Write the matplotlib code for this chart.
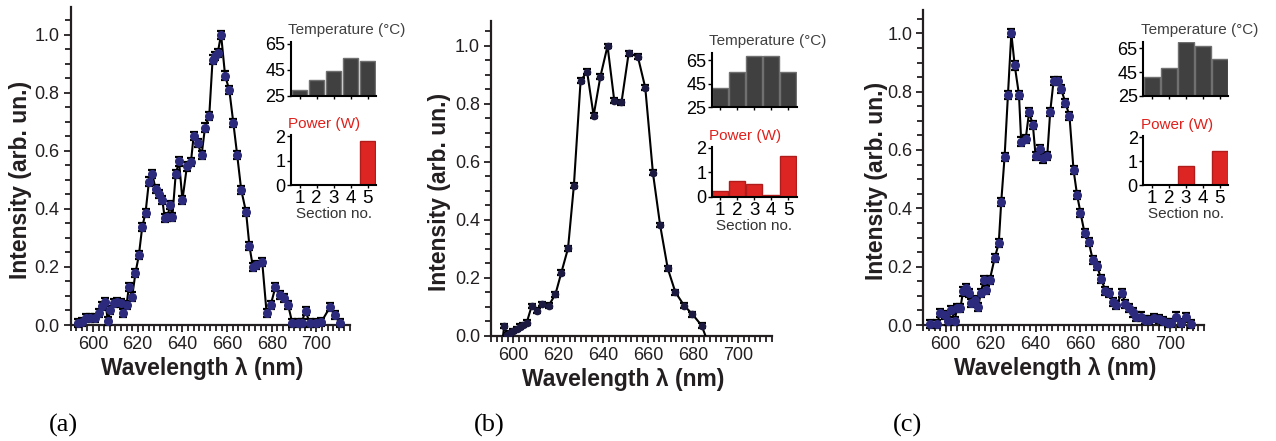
import numpy as np
import matplotlib
matplotlib.use('Agg')
import matplotlib.pyplot as plt
from matplotlib.ticker import MultipleLocator

plt.rcParams['font.family'] = ['Liberation Sans', 'DejaVu Sans']

# ---- spectra ----
wl_a = [593.1, 595.1, 597.0, 598.8, 601.0, 602.5, 604.0, 605.5, 606.6, 607.8,
        609.3, 610.8, 612.3, 613.5, 615.0, 616.0, 617.5, 619.0, 620.5, 622.0,
        623.5, 625.0, 626.5, 628.0, 629.5, 631.0, 632.1, 633.3, 634.5, 635.5,
        637.0, 638.5, 640.0, 642.0, 643.8, 645.0, 646.8, 648.6, 650.1, 652.0,
        653.5, 654.6, 655.8, 657.3, 659.1, 661.0, 662.8, 664.5, 666.3, 668.5,
        670.0, 671.5, 673.0, 675.7, 677.7, 679.5, 681.6, 683.5, 685.5, 687.3,
        689.2, 691.8, 693.3, 695.1, 697.0, 700.0, 702.2, 706.0, 708.2, 710.5]
int_a = [0.006, 0.011, 0.023, 0.023, 0.023, 0.040, 0.066, 0.080, 0.015, 0.052,
         0.075, 0.080, 0.075, 0.040, 0.069, 0.130, 0.098, 0.180, 0.240, 0.337,
         0.387, 0.494, 0.520, 0.468, 0.450, 0.430, 0.368, 0.373, 0.414, 0.373,
         0.520, 0.563, 0.430, 0.546, 0.560, 0.650, 0.626, 0.586, 0.680, 0.720,
         0.914, 0.925, 0.937, 1.000, 0.859, 0.808, 0.695, 0.586, 0.466, 0.388,
         0.272, 0.201, 0.207, 0.218, 0.040, 0.069, 0.130, 0.103, 0.092, 0.069,
         0.006, 0.006, 0.008, 0.049, 0.006, 0.008, 0.011, 0.061, 0.034, 0.006]
err_a = 0.014

wl_b = [595.0, 595.9, 597.1, 598.5, 600.0, 601.5, 602.9, 604.4, 605.9, 608.1,
        610.3, 612.8, 615.7, 618.7, 621.3, 624.3, 626.9, 629.9, 632.8, 635.7,
        638.7, 641.9, 644.9, 648.1, 651.3, 655.4, 658.7, 662.1, 665.3, 668.7,
        672.1, 676.0, 679.7, 683.8, 686.5]
int_b = [-0.02, 0.034, 0.003, 0.009, 0.017, 0.024, 0.032, 0.038, 0.046, 0.103,
         0.087, 0.110, 0.105, 0.144, 0.218, 0.302, 0.518, 0.880, 0.911, 0.760,
         0.894, 1.000, 0.811, 0.805, 0.975, 0.963, 0.856, 0.563, 0.383, 0.233,
         0.151, 0.105, 0.075, 0.036, -0.02]
err_b = 0.008

wl_c = [592.9, 595.9, 597.6, 599.6, 601.0, 602.5, 604.0, 605.0, 606.5, 607.7,
        609.2, 610.4, 611.4, 612.9, 614.4, 615.6, 616.9, 618.1, 619.6, 621.8,
        623.6, 624.7, 626.2, 627.7, 629.2, 630.7, 632.6, 633.6, 635.6, 637.1,
        638.8, 640.0, 641.8, 643.3, 645.2, 646.5, 648.0, 649.9, 651.4, 653.3,
        655.1, 656.9, 658.5, 660.0, 661.8, 663.7, 665.5, 667.4, 669.2, 671.1,
        672.6, 674.4, 675.9, 678.5, 680.0, 681.5, 683.3, 684.7, 687.0, 688.9,
        690.7, 692.9, 694.8, 696.6, 698.8, 700.3, 702.5, 704.7, 707.0, 709.2]
int_c = [0.003, 0.003, 0.040, 0.034, 0.015, 0.052, 0.015, 0.057, 0.057, 0.115,
         0.126, 0.109, 0.075, 0.086, 0.061, 0.109, 0.155, 0.121, 0.155, 0.230,
         0.280, 0.422, 0.577, 0.790, 1.000, 0.890, 0.790, 0.629, 0.638, 0.730,
         0.686, 0.580, 0.603, 0.571, 0.580, 0.730, 0.836, 0.836, 0.808, 0.762,
         0.716, 0.532, 0.445, 0.385, 0.316, 0.284, 0.222, 0.203, 0.157, 0.118,
         0.111, 0.080, 0.069, 0.109, 0.072, 0.057, 0.043, 0.029, 0.029, 0.017,
         0.017, 0.023, 0.020, 0.015, 0.008, 0.008, 0.029, 0.008, 0.026, 0.003]
err_c = 0.014

# ---- section insets ----
sections = [1, 2, 3, 4, 5]
temp_a = [29.4, 36.9, 44.4, 53.9, 51.6]
temp_b = [41.6, 55.1, 68.4, 68.4, 55.1]
temp_c = [41.0, 48.7, 69.9, 67.2, 56.3]
power_a = [0.0, 0.0, 0.0, 0.0, 1.81]
power_b = [0.24, 0.65, 0.52, 0.07, 1.67]
power_c = [0.0, 0.0, 0.81, 0.0, 1.42]

W, H = 1276, 441
TXT = '#231f20'
NAVY = '#2b2a7c'
GREY = '#404040'
RED = '#dd2623'


def rect(x0, y0, x1, y1):
    return [x0 / W, 1 - y1 / H, (x1 - x0) / W, (y1 - y0) / H]


def main_panel(fig, r, wl, inten, err, ylim_top, clip, ylab_x, ms, mcol):
    ax = fig.add_axes(r)
    ax.errorbar(wl, inten, yerr=err, fmt='-o', color='black', lw=1.5,
                ms=ms, mfc=mcol, mec=mcol, ecolor='black', elinewidth=1,
                capsize=3.2, capthick=1.6, clip_on=clip, zorder=3)
    ax.set_xlim(590, 715)
    ax.set_ylim(0, ylim_top)
    ax.xaxis.set_minor_locator(MultipleLocator(2.5))
    ax.yaxis.set_minor_locator(MultipleLocator(0.05))
    ax.set_xticks([600, 620, 640, 660, 680, 700])
    ax.set_yticks([0.0, 0.2, 0.4, 0.6, 0.8, 1.0])
    ax.yaxis.set_major_formatter(matplotlib.ticker.FormatStrFormatter('%.1f'))
    for s in ['top', 'right']:
        ax.spines[s].set_visible(False)
    for s in ['left', 'bottom']:
        ax.spines[s].set_linewidth(1.6)
        ax.spines[s].set_color(TXT)
    ax.tick_params(which='both', direction='out', width=1.3, color=TXT,
                   labelsize=13, labelcolor=TXT, pad=3)
    ax.tick_params(which='major', length=5)
    ax.tick_params(which='minor', length=4)
    ax.set_xlabel('Wavelength λ (nm)', fontsize=16.5, fontweight='bold', color=TXT)
    ax.set_ylabel('Intensity (arb. un.)', fontsize=16.5, fontweight='bold', color=TXT)
    ax.xaxis.set_label_coords(0.47, -0.137)
    ax.xaxis.label.set_va('center')
    ax.yaxis.set_label_coords(ylab_x, 0.457)
    ax.yaxis.label.set_va('center')
    return ax


def inset(fig, r, vals, color, edge, ylim, yticks, title, tcolor, bottom_labels):
    ax = fig.add_axes(r)
    ax.bar(sections, [v - ylim[0] for v in vals], bottom=ylim[0], width=0.92,
           color=color, edgecolor=edge, linewidth=1)
    ax.set_xlim(0.5, 5.5)
    ax.set_ylim(*ylim)
    ax.set_yticks(yticks)
    ax.set_xticks(sections)
    for s in ['top', 'right']:
        ax.spines[s].set_visible(False)
    for s in ['left', 'bottom']:
        ax.spines[s].set_linewidth(1.5)
        ax.spines[s].set_color('black')
    ax.tick_params(axis='y', length=3, width=1, pad=1, labelsize=13, labelcolor='black')
    ax.tick_params(axis='x', length=2.5, width=1, pad=1, labelsize=13.5, labelcolor='black')
    if bottom_labels:
        ax.set_xlabel('Section no.', fontsize=11, color='#333333', labelpad=0)
    else:
        ax.set_xticklabels([])
    ax.text(-0.03, 1.08, title, transform=ax.transAxes, ha='left', va='bottom',
            fontsize=11, color=tcolor)
    return ax


fig = plt.figure(figsize=(W / 100, H / 100), dpi=100)

main_panel(fig, rect(70.7, 7, 350, 325), wl_a, int_a, err_a, 1.095, False, -0.18, 5.5, NAVY)
main_panel(fig, rect(491, 20.7, 771.7, 336), wl_b, int_b, err_b, 1.087, True, -0.185, 4.5, '#1c1a40')
main_panel(fig, rect(923.3, 10, 1204, 325), wl_c, int_c, err_c, 1.08, False, -0.168, 5.5, NAVY)

inset_x = [291, 711.7, 1143.3]
temp_y = [(41.7, 96), (52.7, 107.3), (41.7, 96)]
pow_y = [(135, 185), (146.7, 196.7), (136, 185)]
temp_top = [66.5, 71.2, 70.5]
temps = [temp_a, temp_b, temp_c]
powers = [power_a, power_b, power_c]

for i in range(3):
    x0 = inset_x[i]
    inset(fig, rect(x0, temp_y[i][0], x0 + 85, temp_y[i][1]), temps[i], GREY, '#707070',
          (25, temp_top[i]), [25, 45, 65], 'Temperature (°C)', '#404040', False)
    inset(fig, rect(x0, pow_y[i][0], x0 + 85, pow_y[i][1]), powers[i], RED, '#b01c1c',
          (0, 2.05), [0, 1, 2], 'Power (W)', '#e0201b', True)

for lab, x in zip(['(a)', '(b)', '(c)'], [63, 489, 907]):
    fig.text(x / W, 1 - 425 / H, lab, ha='center', va='center', fontsize=19,
             family=['Liberation Serif', 'DejaVu Serif'], color='black')

fig.savefig('out.png', dpi=100)
